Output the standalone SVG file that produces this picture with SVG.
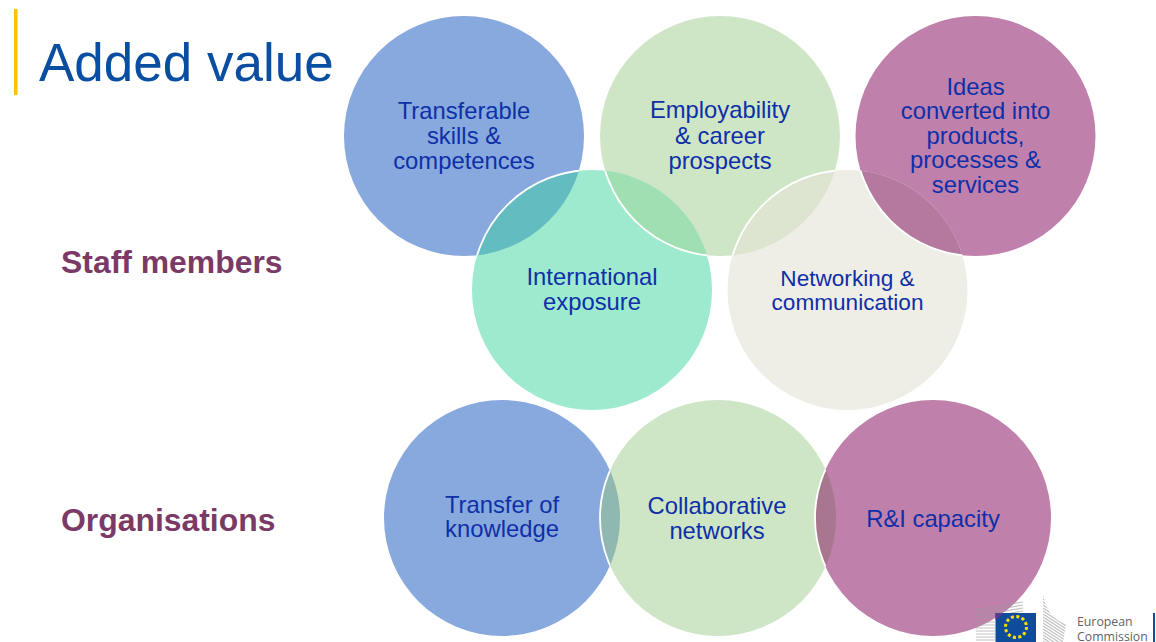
<svg xmlns="http://www.w3.org/2000/svg" width="1156" height="642" viewBox="0 0 1156 642">
<style>
.t{font-family:"Liberation Sans",Arial,sans-serif;font-size:23.8px;fill:#0f2fa8;text-anchor:middle}
.n{font-size:22.6px}
.h{font-family:"Liberation Sans",Arial,sans-serif;font-size:31.9px;font-weight:bold;fill:#7b3a66}
.e{fill:none;stroke:#fff;stroke-width:1.8}
.l{font-family:"Open Sans","Noto Sans",sans-serif;font-size:12.3px;fill:#5f6368}
.s{stroke:#9a9a9a;stroke-opacity:.6;stroke-width:1.2;fill:none}
.blue{fill:#88a9dd}.green{fill:#cee6c6}.plum{fill:#bf80ab}.teal{fill:#9deace}.grey{fill:#eeeee6}
</style>
<defs>
<clipPath id="cB"><circle cx="464" cy="136" r="120"/></clipPath>
<clipPath id="cGr"><circle cx="720" cy="136" r="120"/></clipPath>
<clipPath id="cT"><circle cx="592" cy="290" r="120"/></clipPath>
<clipPath id="cG"><circle cx="847.5" cy="290" r="120"/></clipPath>
<clipPath id="cB2"><circle cx="502" cy="518" r="118"/></clipPath>
<clipPath id="cGr2"><circle cx="718" cy="518" r="118"/></clipPath>
<clipPath id="cP2"><circle cx="933" cy="518" r="118"/></clipPath>
<clipPath id="cTow"><path d="M1043 594C1046 612 1054 620 1066 624L1063 642H1043Z"/></clipPath>
</defs>
<rect width="1156" height="642" fill="#fff"/>
<rect x="14" y="9" width="3.5" height="86" fill="#ffc000"/>
<text x="39" y="81" font-family="'Liberation Sans',Arial,sans-serif" font-size="53" fill="#0a4ea2">Added value</text>
<text class="h" x="61" y="273">Staff members</text>
<text class="h" x="61" y="531">Organisations</text>
<g id="n1"><circle class="blue" cx="464" cy="136" r="120"/></g>
<g id="n2"><circle class="green" cx="720" cy="136" r="120"/></g>
<g id="n3"><circle class="plum" cx="975.5" cy="136" r="120"/></g>
<g id="n4"><circle class="teal" cx="592" cy="290" r="120"/>
<circle cx="464" cy="136" r="120" fill="#62bcc0" clip-path="url(#cT)"/>
<circle cx="720" cy="136" r="120" fill="#9fdfb2" clip-path="url(#cT)"/>
</g>
<g id="n5"><circle class="grey" cx="847.5" cy="290" r="120"/>
<circle cx="720" cy="136" r="120" fill="#dde4d0" clip-path="url(#cG)"/>
<circle cx="975.5" cy="136" r="120" fill="#b5789e" clip-path="url(#cG)"/>
</g>
<g id="edges">
<g clip-path="url(#cB)"><circle class="e" cx="592" cy="290" r="120"/></g>
<g clip-path="url(#cT)"><circle class="e" cx="720" cy="136" r="120"/></g>
<g clip-path="url(#cGr)"><circle class="e" cx="847.5" cy="290" r="120"/></g>
<g clip-path="url(#cG)"><circle class="e" cx="975.5" cy="136" r="120"/></g>
</g>
<g id="n6"><circle class="blue" cx="502" cy="518" r="118"/></g>
<g id="n7"><circle class="green" cx="718" cy="518" r="118"/>
<circle cx="718" cy="518" r="118" fill="#8fb8b0" clip-path="url(#cB2)"/>
<g clip-path="url(#cB2)"><circle class="e" cx="718" cy="518" r="118"/></g></g>
<g id="n8"><circle class="plum" cx="933" cy="518" r="118"/>
<circle cx="718" cy="518" r="118" fill="#a9768f" clip-path="url(#cP2)"/>
<g clip-path="url(#cGr2)"><circle class="e" cx="933" cy="518" r="118"/></g></g>
<g id="logo">
<path class="s" d="M976 610L1023 602M976 613L1023 605M976 616L1023 608M976 619L1023 611M976 622H995M976 625H995M976 628H995M976 631H995M976 634H995M976 637H995M976 640H995"/>
<g clip-path="url(#cTow)"><path class="s" d="M1043 596L1068 612M1043 599L1068 615M1043 602L1068 618M1043 605L1068 621M1043 608L1068 624M1043 611L1068 627M1043 614L1068 630M1043 617L1068 633M1043 620L1068 636M1043 623L1068 639M1043 626L1068 642M1043 629L1068 645M1043 632L1068 648M1043 635L1068 651M1043 638L1068 654M1043 641L1068 657"/></g>
<rect x="995.5" y="613" width="40.5" height="29" fill="#0f4c9c"/>
<path d="M995.5 613H1003C1001 616 998 619 995.5 620Z" fill="#5a3a8c"/>
<circle cx="1016" cy="627" r="10.5" fill="none" stroke="#ffdf00" stroke-width="3" stroke-dasharray="3 2.5"/>
<text class="l" x="1077" y="626">European</text>
<text class="l" x="1077" y="640.5">Commission</text>
<rect x="1153" y="613" width="2" height="29" fill="#0f4c9c"/>
</g>
<g id="labels">
<text class="t" x="464" y="119">Transferable</text><text class="t" x="464" y="144">skills &amp;</text><text class="t" x="464" y="169">competences</text>
<text class="t" x="720" y="118">Employability</text><text class="t" x="720" y="144">&amp; career</text><text class="t" x="720" y="169">prospects</text>
<text class="t" x="975.5" y="95">Ideas</text><text class="t" x="975.5" y="119">converted into</text><text class="t" x="975.5" y="144">products,</text><text class="t" x="975.5" y="168">processes &amp;</text><text class="t" x="975.5" y="193">services</text>
<text class="t" x="592" y="285">International</text><text class="t" x="592" y="310">exposure</text>
<text class="t n" x="847.5" y="286">Networking &amp;</text><text class="t n" x="847.5" y="310">communication</text>
<text class="t" x="502" y="513">Transfer of</text><text class="t" x="502" y="537">knowledge</text>
<text class="t" x="717" y="514">Collaborative</text><text class="t" x="717" y="539">networks</text>
<text class="t" x="933" y="527">R&amp;I capacity</text>
</g>
<g id="connectors"/>
</svg>
